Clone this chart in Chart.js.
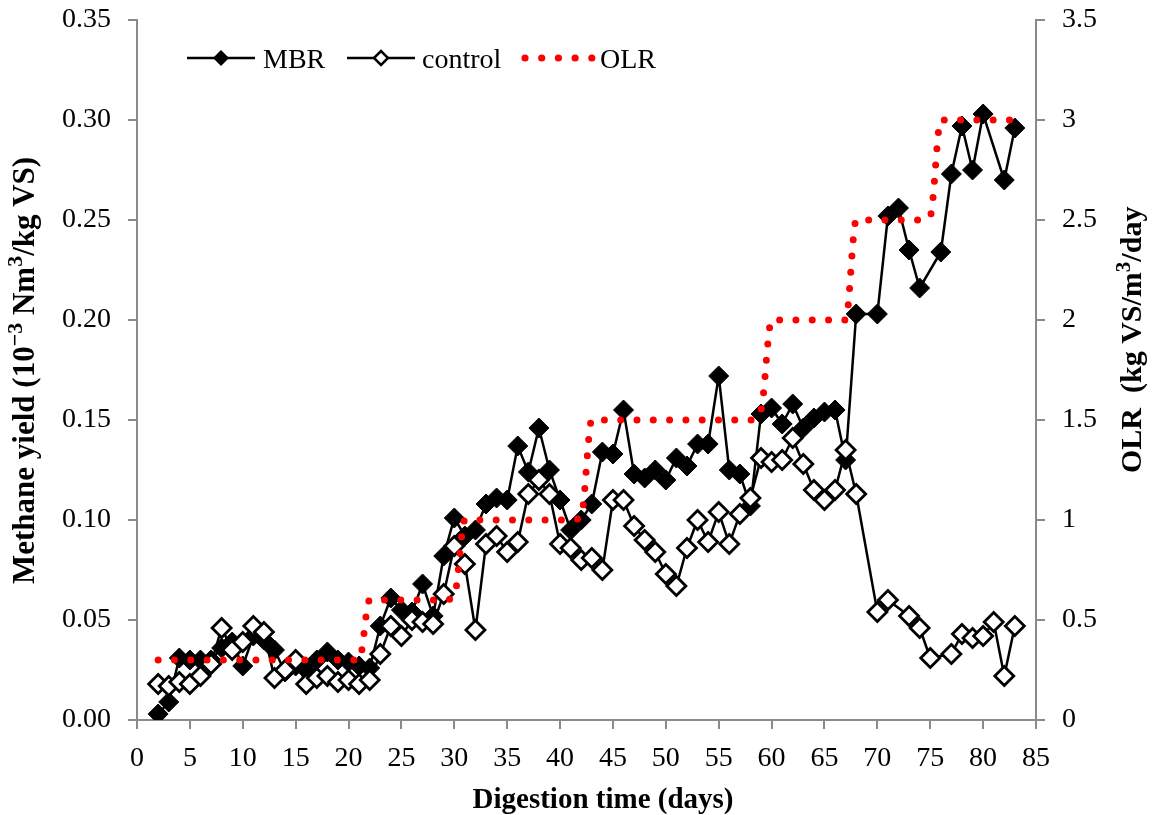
<!DOCTYPE html>
<html>
<head>
<meta charset="utf-8">
<script src="https://cdn.jsdelivr.net/npm/chart.js@4.4.0/dist/chart.umd.min.js"></script>
<style>
html,body{margin:0;padding:0;background:#fff;}
#wrap{width:1152px;height:815px;position:relative;}
</style>
</head>
<body>
<div id="wrap"><canvas id="c" width="1152" height="815"></canvas></div>
<script>
// ---------- data ----------
const mbrDays = [2,3,4,5,6,7,8,9,10,11,12,13,14,15,16,17,18,19,20,21,22,23,24,25,26,27,28,29,30,31,32,33,34,35,36,37,38,39,40,41,42,43,44,45,46,47,48,49,50,51,52,53,54,55,56,57,58,59,60,61,62,63,64,65,66,67,68,70,71,72,73,74,76,77,78,79,80,82,83];
const mbrYield = [0.003,0.009,0.031,0.030,0.030,0.030,0.036,0.039,0.027,0.042,0.040,0.035,0.024,0.027,0.025,0.030,0.034,0.030,0.029,0.027,0.026,0.047,0.061,0.055,0.054,0.068,0.052,0.082,0.101,0.092,0.095,0.108,0.111,0.110,0.137,0.124,0.146,0.125,0.110,0.095,0.100,0.108,0.134,0.133,0.155,0.123,0.121,0.125,0.120,0.131,0.127,0.138,0.138,0.172,0.125,0.123,0.107,0.153,0.156,0.148,0.158,0.146,0.151,0.154,0.155,0.130,0.203,0.203,0.252,0.256,0.235,0.216,0.234,0.273,0.297,0.275,0.303,0.270,0.296];

const ctrlDays = [2,3,4,5,6,7,8,9,10,11,12,13,14,15,16,17,18,19,20,21,22,23,24,25,26,27,28,29,30,31,32,33,34,35,36,37,38,39,40,41,42,43,44,45,46,47,48,49,50,51,52,53,54,55,56,57,58,59,60,61,62,63,64,65,66,67,68,70,71,73,74,75,77,78,79,80,81,82,83];
const ctrlYield = [0.018,0.017,0.019,0.018,0.022,0.028,0.046,0.035,0.039,0.047,0.044,0.021,0.025,0.030,0.018,0.021,0.022,0.019,0.020,0.018,0.020,0.033,0.047,0.042,0.050,0.049,0.048,0.063,0.087,0.078,0.045,0.088,0.092,0.084,0.089,0.113,0.120,0.113,0.088,0.086,0.080,0.081,0.075,0.110,0.110,0.097,0.090,0.084,0.073,0.067,0.086,0.100,0.089,0.104,0.088,0.103,0.111,0.131,0.129,0.130,0.141,0.128,0.115,0.110,0.115,0.135,0.113,0.054,0.060,0.052,0.046,0.031,0.033,0.043,0.041,0.042,0.049,0.022,0.047];

const olrDays   = [2,21,22,29,30,31,41,42,43,58,59,60,67,68,74,75,76,83];
const olrValues = [0.3,0.3,0.6,0.6,0.62,1.0,1.0,1.02,1.5,1.5,1.55,2.0,2.0,2.5,2.5,2.52,3.0,3.0];

const seriesLabels = ['MBR','control','OLR'];
const xTitle = 'Digestion time (days)';
const leftTitleRuns = [['Methane yield (10',0],['\u22123',1],[' Nm',0],['3',1],['/kg VS)',0]];
const rightTitleRuns = [['OLR  (kg VS/m',0],['3',1],['/day',0]];

// ---------- helpers ----------
const toPts = (xs, ys) => xs.map((x,i) => ({x: x, y: ys[i]}));
const FONT = "'Liberation Serif', 'Times New Roman', serif";
const AXIS_GRAY = '#8a8a8a';

function drawRunsRotated(ctx, bx, by, runs, size) {
  ctx.save();
  ctx.translate(bx, by);
  ctx.rotate(-Math.PI/2);
  ctx.fillStyle = '#000';
  ctx.textBaseline = 'alphabetic';
  ctx.textAlign = 'left';
  let u = 0;
  for (const [t, sup] of runs) {
    const fs = sup ? Math.round(size*0.7) : size;
    ctx.font = 'bold ' + fs + 'px ' + FONT;
    ctx.fillText(t, u, sup ? -size*0.38 : 0);
    u += ctx.measureText(t).width;
  }
  ctx.restore();
}

const overlay = {
  id: 'overlay',
  afterDraw(chart) {
    const ctx = chart.ctx;
    const ds = chart.data.datasets;
    // axis titles
    drawRunsRotated(ctx, 34, 584, leftTitleRuns, 31);
    drawRunsRotated(ctx, 1141, 473, rightTitleRuns, 30);
    ctx.save();
    ctx.font = 'bold 29px ' + FONT;
    ctx.fillStyle = '#000';
    ctx.textAlign = 'center';
    ctx.textBaseline = 'alphabetic';
    ctx.fillText(chart.options.scales.x.title.text, 603, 808);
    ctx.restore();
    // legend
    ctx.save();
    ctx.font = '28px ' + FONT;
    ctx.fillStyle = '#000';
    ctx.textBaseline = 'alphabetic';
    const ly = 58;
    // MBR
    ctx.strokeStyle = '#000'; ctx.lineWidth = 2.5;
    ctx.beginPath(); ctx.moveTo(187, ly); ctx.lineTo(255, ly); ctx.stroke();
    ctx.beginPath();
    ctx.moveTo(221-8, ly); ctx.lineTo(221, ly-8); ctx.lineTo(221+8, ly); ctx.lineTo(221, ly+8); ctx.closePath();
    ctx.fillStyle = '#000'; ctx.fill();
    ctx.fillText(ds[0].label, 263, 68);
    // control
    ctx.beginPath(); ctx.moveTo(347, ly); ctx.lineTo(415, ly); ctx.stroke();
    ctx.beginPath();
    ctx.moveTo(381-7, ly); ctx.lineTo(381, ly-7); ctx.lineTo(381+7, ly); ctx.lineTo(381, ly+7); ctx.closePath();
    ctx.fillStyle = '#fff'; ctx.fill(); ctx.stroke();
    ctx.fillStyle = '#000';
    ctx.fillText(ds[1].label, 422, 68);
    // OLR
    ctx.fillStyle = '#ff0000';
    for (let i = 0; i < 5; i++) {
      ctx.beginPath(); ctx.arc(525 + i*16.7, ly, 3.6, 0, Math.PI*2); ctx.fill();
    }
    ctx.fillStyle = '#000';
    ctx.fillText(ds[2].label, 600, 68);
    ctx.restore();
  }
};

Chart.defaults.font.family = FONT;
Chart.defaults.color = '#000';

function fixV(width) {
  return function(s) { s.width = width; s.paddingTop = 0; s.paddingBottom = 0; };
}

new Chart(document.getElementById('c'), {
  type: 'line',
  data: {
    datasets: [
      {
        label: seriesLabels[0],
        data: toPts(mbrDays, mbrYield),
        yAxisID: 'y',
        borderColor: '#000', borderWidth: 2.5,
        pointStyle: 'rectRot', pointRadius: 10,
        pointBackgroundColor: '#000', pointBorderColor: '#000', pointBorderWidth: 1,
        tension: 0, order: 2
      },
      {
        label: seriesLabels[1],
        data: toPts(ctrlDays, ctrlYield),
        yAxisID: 'y',
        borderColor: '#000', borderWidth: 2.5,
        pointStyle: 'rectRot', pointRadius: 9.5,
        pointBackgroundColor: '#fff', pointBorderColor: '#000', pointBorderWidth: 2.8,
        tension: 0, order: 1
      },
      {
        label: seriesLabels[2],
        data: toPts(olrDays, olrValues),
        yAxisID: 'y2',
        borderColor: '#ff0000', borderWidth: 7,
        borderDash: [0, 16.3], borderCapStyle: 'round',
        pointRadius: 0, cubicInterpolationMode: 'monotone',
        order: 0
      }
    ]
  },
  options: {
    responsive: false,
    animation: false,
    devicePixelRatio: 1,
    layout: { padding: { top: 20, left: 0, right: 0, bottom: 0 } },
    plugins: { legend: { display: false }, tooltip: { enabled: false } },
    elements: { line: { fill: false } },
    scales: {
      x: {
        type: 'linear', min: 0, max: 85,
        ticks: { stepSize: 5, font: { size: 28 }, color: '#000', padding: 13, maxRotation: 0 },
        grid: { drawOnChartArea: false, drawTicks: true, tickLength: 9, color: AXIS_GRAY, lineWidth: 2 },
        border: { display: true, color: AXIS_GRAY, width: 2 },
        title: { display: false, text: xTitle },
        afterFit(s) { s.height = 95; s.paddingLeft = 0; s.paddingRight = 0; }
      },
      y: {
        type: 'linear', position: 'left', min: 0, max: 0.35,
        ticks: { stepSize: 0.05, font: { size: 28 }, color: '#000', padding: 17, callback: v => Number(v).toFixed(2) },
        grid: { drawOnChartArea: false, drawTicks: true, tickLength: 9, color: AXIS_GRAY, lineWidth: 2 },
        border: { display: true, color: AXIS_GRAY, width: 2 },
        afterFit: fixV(137)
      },
      y2: {
        type: 'linear', position: 'right', min: 0, max: 3.5,
        ticks: { stepSize: 0.5, font: { size: 28 }, color: '#000', padding: 17, callback: v => String(Number(Number(v).toFixed(1))) },
        grid: { drawOnChartArea: false, drawTicks: true, tickLength: 9, color: AXIS_GRAY, lineWidth: 2 },
        border: { display: true, color: AXIS_GRAY, width: 2 },
        afterFit: fixV(116)
      }
    }
  },
  plugins: [overlay]
});
</script>
</body>
</html>
